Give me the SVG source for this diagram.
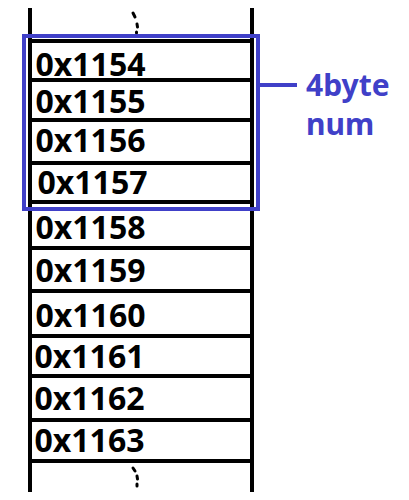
<svg xmlns="http://www.w3.org/2000/svg" width="409" height="500" viewBox="0 0 409 500">
<style>
.addr{font-family:"Noto Sans","Open Sans","DejaVu Sans",sans-serif;font-weight:bold;font-size:32px;fill:#000}
.lbl{font-family:"Noto Sans","Open Sans","DejaVu Sans",sans-serif;font-weight:bold;font-size:30px;fill:#4040C8}
.wall{stroke:#000;stroke-width:4;fill:none}
.dot{stroke:#000;stroke-width:3;stroke-linecap:round;fill:none}
.blue{stroke:#4040C8;stroke-width:4;fill:none}
</style>
<rect width="409" height="500" fill="#fff"/>
<g id="memory">
<line class="wall" x1="30" y1="8" x2="30" y2="492"/>
<line class="wall" x1="252" y1="8" x2="252" y2="492"/>
<line class="wall" x1="30" y1="41" x2="252" y2="41"/>
<line class="wall" x1="30" y1="80" x2="252" y2="80"/>
<line class="wall" x1="30" y1="120" x2="252" y2="120"/>
<line class="wall" x1="30" y1="163" x2="252" y2="163"/>
<line class="wall" x1="30" y1="202" x2="252" y2="202"/>
<line class="wall" x1="30" y1="248" x2="252" y2="248"/>
<line class="wall" x1="30" y1="291" x2="252" y2="291"/>
<line class="wall" x1="30" y1="336" x2="252" y2="336"/>
<line class="wall" x1="30" y1="376" x2="252" y2="376"/>
<line class="wall" x1="30" y1="420" x2="252" y2="420"/>
<line class="wall" x1="30" y1="461" x2="252" y2="461"/>
<path class="dot" d="M133,13 L135,17 M137,24 L137.5,27 M136.5,32 L136.5,33"/>
<path class="dot" d="M133,468 L135,471 M137,476 L137.5,479 M137,484 L137,486"/>
</g>
<g id="cell-1154"><text class="addr" x="35.5" y="76">0x1154</text></g>
<g id="cell-1155"><text class="addr" x="35.5" y="113">0x1155</text></g>
<g id="cell-1156"><text class="addr" x="35.5" y="152">0x1156</text></g>
<g id="cell-1157"><text class="addr" x="37.5" y="194">0x1157</text></g>
<g id="cell-1158"><text class="addr" x="35.5" y="239">0x1158</text></g>
<g id="cell-1159"><text class="addr" x="35.5" y="282">0x1159</text></g>
<g id="cell-1160"><text class="addr" x="35.5" y="327">0x1160</text></g>
<g id="cell-1161"><text class="addr" x="34.5" y="368">0x1161</text></g>
<g id="cell-1162"><text class="addr" x="34.5" y="410">0x1162</text></g>
<g id="cell-1163"><text class="addr" x="34.5" y="452">0x1163</text></g>
<g id="group-4byte">
<rect class="blue" x="24" y="36" width="234" height="173"/>
<text class="lbl" x="306" y="96">4byte</text>
<text class="lbl" x="306" y="135">num</text>
</g>
<g id="connectors">
<line class="blue" x1="258" y1="85" x2="297" y2="85"/>
</g>
</svg>
